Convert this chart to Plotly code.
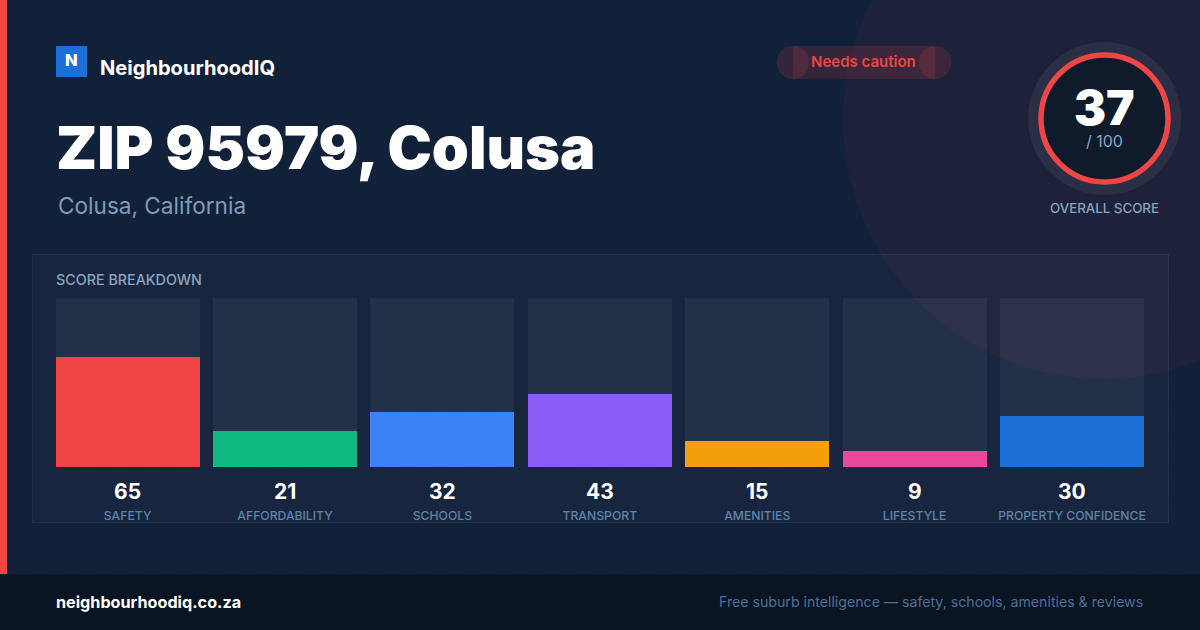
import numpy as np
import plotly.graph_objects as go

# Score breakdown data
categories = ["SAFETY", "AFFORDABILITY", "SCHOOLS", "TRANSPORT", "AMENITIES", "LIFESTYLE", "PROPERTY CONFIDENCE"]
scores = [65, 21, 32, 43, 15, 9, 30]
max_scores = [100, 100, 100, 100, 100, 100, 100]
bar_colors = ["#f04545", "#10b981", "#3b82f6", "#8b5cf6", "#f59e0b", "#ec4899", "#1d6fd8"]

W, H = 1200, 630
FONT = "Inter"
BAR_WIDTH = 144 / 157.4  # bargap stays 0 so plotly snaps the bar edges to whole pixels


# helpers so shapes can be placed in page pixels
def px(x):
    return x / W


def py(y):
    return 1 - y / H


def rect(x0, y0, x1, y1, fill, line=None, layer="below"):
    return dict(type="rect", xref="paper", yref="paper", x0=px(x0), x1=px(x1), y0=py(y0), y1=py(y1),
                fillcolor=fill, line=dict(color=line, width=1) if line else dict(width=0), layer=layer)


def circle(cx, cy, r, fill, line=None, lw=0, layer="below"):
    return dict(type="circle", xref="paper", yref="paper", x0=px(cx - r), x1=px(cx + r), y0=py(cy - r), y1=py(cy + r),
                fillcolor=fill, line=dict(color=line, width=lw) if line else dict(width=0), layer=layer)


def label(x, y, text, size, color, weight=400, anchor="left"):
    return dict(xref="paper", yref="paper", x=px(x), y=py(y), text=text, showarrow=False, xanchor=anchor,
                yanchor="middle", borderpad=0, borderwidth=0,
                font=dict(family=FONT, size=size, color=color, weight=weight))


fig = go.Figure()

# faint dot grid behind everything, on a full page pixel axis
gx, gy = np.meshgrid(np.arange(24, W, 32), np.arange(24, 574, 32))
fig.add_trace(go.Scatter(x=gx.ravel(), y=gy.ravel(), mode="markers", hoverinfo="skip", showlegend=False,
                         marker=dict(size=3, color="rgba(255,255,255,0.03)", line=dict(width=0))))

# grey tracks, then coloured bars on top
fig.add_trace(go.Bar(x=categories, y=max_scores, width=BAR_WIDTH,
                     marker=dict(color="rgba(255,255,255,0.055)", line=dict(width=0)),
                     xaxis="x2", yaxis="y2", showlegend=False))
fig.add_trace(go.Bar(x=categories, y=scores, width=BAR_WIDTH, marker=dict(color=bar_colors, line=dict(width=0)),
                     xaxis="x2", yaxis="y2", showlegend=False))

shapes = [
    circle(1103, 119, 260, "rgba(239,68,68,0.05)"),
    rect(32.5, 254.5, 1168.5, 522.5, "rgba(255,255,255,0.025)", "rgba(255,255,255,0.07)"),
    rect(0, 0, 7, 574, "#f44545"),
    rect(0, 574, W, H, "#0a1422"),
    rect(0, 574, W, 575, "#111d2e"),
    rect(56, 46, 87, 77, "#1d6fd8"),
    # badge: pill body and two overlapping end caps
    rect(793, 46, 935, 79, "rgba(239,68,68,0.15)"),
    circle(793, 62.5, 16.5, "rgba(239,68,68,0.15)"),
    circle(935, 62.5, 16.5, "rgba(239,68,68,0.15)"),
    # score ring
    circle(1104.5, 118.5, 76.5, "rgba(255,255,255,0.06)", layer="above"),
    circle(1104.5, 118.5, 63.5, "#0f1a2b", "#f04545", 5.5, layer="above"),
]

annotations = [
    label(71.5, 60, "N", 16.5, "#ffffff", 800, "center"),
    label(100, 68, "NeighbourhoodIQ", 20.1, "#ffffff", 700),
    label(56, 147, "ZIP 95979, Colusa", 59.4, "#ffffff", 900),
    label(58, 206, "Colusa, California", 22.6, "#7f9bb8", 400),
    label(863.5, 62, "Needs caution", 15, "#ef4444", 600, "center"),
    label(1104.5, 107.5, "37", 48, "#ffffff", 900, "center"),
    label(1104.5, 141, "/ 100", 16, "#8aa3c0", 400, "center"),
    label(1104.5, 208.5, "OVERALL SCORE", 13.3, "#8aa3c0", 500, "center"),
    label(56, 279.5, "SCORE BREAKDOWN", 14.3, "#8aa3c0", 500),
    label(56, 602, "neighbourhoodiq.co.za", 16.2, "#ffffff", 700),
    label(1143, 601.5, "Free suburb intelligence — safety, schools, amenities &amp; reviews", 14.15, "#4d6f95", 400, "right"),
]
# score values sit under each bar, lined up with the category axis
for cat, val in zip(categories, scores):
    annotations.append(dict(xref="x2", yref="paper", x=cat, y=py(491.5), text=str(val), showarrow=False,
                            yanchor="middle", borderpad=0,
                            font=dict(family=FONT, size=21, color="#ffffff", weight=700)))

fig.update_layout(
    width=W, height=H, margin=dict(l=0, r=0, t=0, b=0, pad=0, autoexpand=False),
    paper_bgcolor="#12213a", plot_bgcolor="rgba(0,0,0,0)",
    barmode="overlay", bargap=0, showlegend=False,
    shapes=shapes, annotations=annotations,
    xaxis=dict(domain=[0, 1], range=[0, W], visible=False, fixedrange=True),
    yaxis=dict(domain=[0, 1], range=[H, 0], visible=False, fixedrange=True),
    # ranges nudged a hair so the bar edges snap to the same pixels as the reference
    xaxis2=dict(domain=[49 / W, 1150.8 / W], anchor="y2", range=[-0.4994, 6.5006], showgrid=False, showline=False,
                zeroline=False, ticks="", tickangle=0, ticklabelstandoff=40, automargin=False,
                tickfont=dict(family=FONT, size=12.2, color="#5f83a8", weight=500)),
    yaxis2=dict(domain=[1 - 467 / H, 1 - 298 / H], anchor="x2", range=[-0.266, 99.734], visible=False),
)

fig.write_html("out.html", config=dict(displayModeBar=False),
               post_script="document.body.style.margin='0';document.documentElement.style.overflow='hidden';")
